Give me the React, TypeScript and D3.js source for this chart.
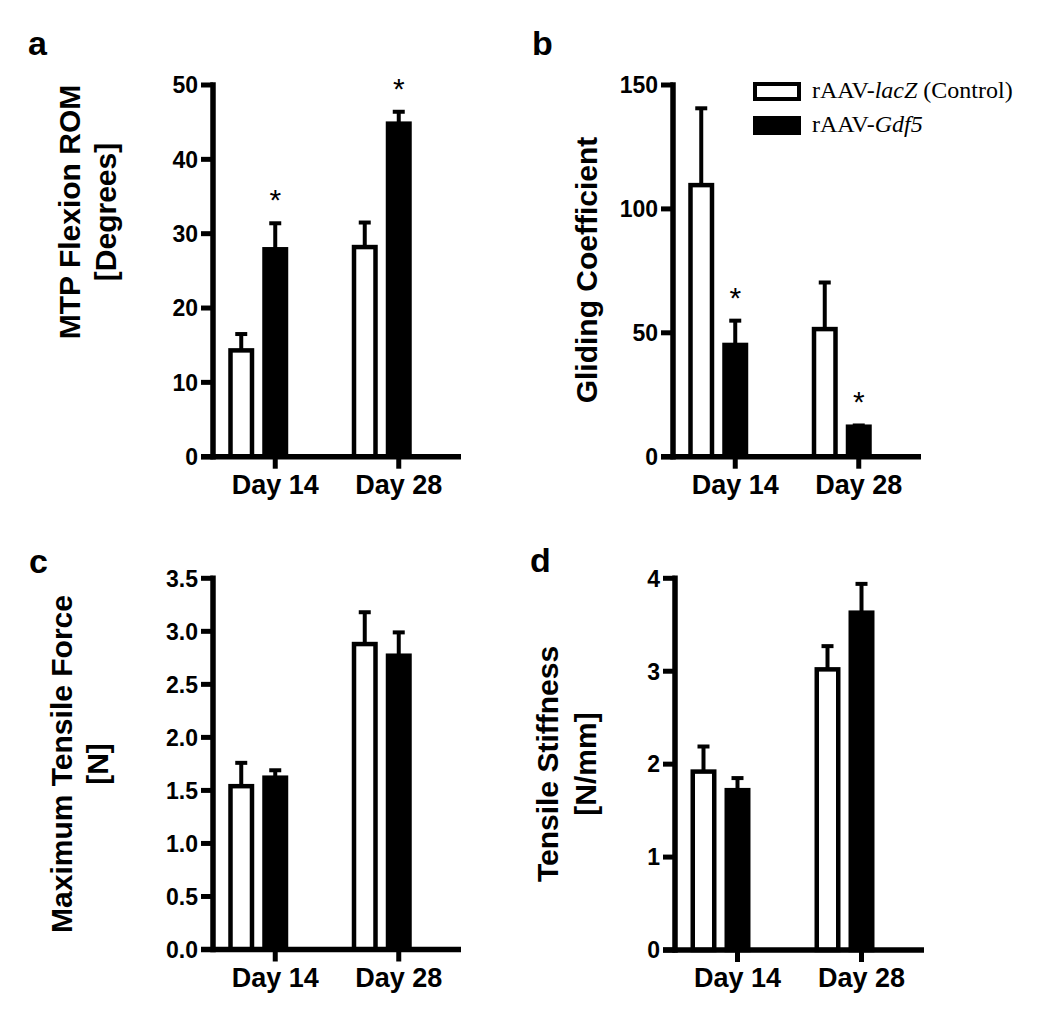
import React from "react";
import * as d3 from "d3";

// ---- data ----
const days = ["Day 14", "Day 28"];
const groups = ["control", "gdf5"];

// a: MTP Flexion ROM [Degrees]
const romControl = [14.3, 28.2];
const romControlErr = [2.2, 3.3];
const romGdf5 = [27.9, 44.8];
const romGdf5Err = [3.5, 1.6];
const romGdf5Star = [true, true];
const romTicks = [0, 10, 20, 30, 40, 50];

// b: Gliding Coefficient
const glideControl = [109.6, 51.5];
const glideControlErr = [31.0, 18.8];
const glideGdf5 = [45.1, 12.1];
const glideGdf5Err = [9.8, 0.5];
const glideGdf5Star = [true, true];
const glideTicks = [0, 50, 100, 150];

// c: Maximum Tensile Force [N]
const forceControl = [1.54, 2.88];
const forceControlErr = [0.22, 0.3];
const forceGdf5 = [1.62, 2.77];
const forceGdf5Err = [0.07, 0.22];
const forceGdf5Star = [false, false];
const forceTicks = [0, 0.5, 1.0, 1.5, 2.0, 2.5, 3.0, 3.5];

// d: Tensile Stiffness [N/mm]
const stiffControl = [1.92, 3.02];
const stiffControlErr = [0.27, 0.25];
const stiffGdf5 = [1.72, 3.63];
const stiffGdf5Err = [0.13, 0.31];
const stiffGdf5Star = [false, false];
const stiffTicks = [0, 1, 2, 3, 4];

const legendLabels = [
  { pre: "rAAV-", it: "lacZ", post: " (Control)" },
  { pre: "rAAV-", it: "Gdf5", post: "" },
];

const SANS = "'Liberation Sans', Arial, Helvetica, sans-serif";
const SERIF = "'Liberation Serif', 'Times New Roman', serif";

type PanelProps = {
  letter: string;
  letterX: number;
  letterY: number;
  axisX: number;
  top: number;
  bottom: number;
  span: number;
  ticks: number[];
  tickFmt: (v: number) => string;
  control: number[];
  controlErr: number[];
  gdf5: number[];
  gdf5Err: number[];
  stars: boolean[];
  titles: { text: string; x: number }[];
  titleCY: number;
};

function Panel(p: PanelProps) {
  const y = d3
    .scaleLinear()
    .domain([p.ticks[0], p.ticks[p.ticks.length - 1]])
    .range([p.bottom, p.top]);
  const x = d3
    .scalePoint<string>()
    .domain(days)
    .range([p.axisX, p.axisX + p.span])
    .padding(0.504);
  const sub = d3
    .scaleBand<string>()
    .domain(groups)
    .range([-51, 17])
    .paddingInner(0.368)
    .paddingOuter(0.184);
  const bw = sub.bandwidth();
  const data = [
    { g: "control", vals: p.control, errs: p.controlErr },
    { g: "gdf5", vals: p.gdf5, errs: p.gdf5Err },
  ];
  const capW = 12;
  return (
    <g>
      <text
        x={p.letterX}
        y={p.letterY}
        fontFamily={SANS}
        fontWeight="bold"
        fontSize={34}
      >
        {p.letter}
      </text>
      {p.titles.map((t, i) => (
        <text
          key={i}
          transform={`translate(${t.x},${p.titleCY}) rotate(-90)`}
          textAnchor="middle"
          fontFamily={SANS}
          fontWeight="bold"
          fontSize={30}
        >
          {t.text}
        </text>
      ))}
      {data.map((s) =>
        days.map((d, i) => {
          const cx = (x(d) as number) + (sub(s.g) as number) + bw / 2;
          const v = s.vals[i];
          const e = s.errs[i];
          return (
            <g key={s.g + d}>
              <line
                x1={cx}
                x2={cx}
                y1={y(v)}
                y2={y(v + e)}
                stroke="#000"
                strokeWidth={4}
              />
              <line
                x1={cx - capW / 2}
                x2={cx + capW / 2}
                y1={y(v + e)}
                y2={y(v + e)}
                stroke="#000"
                strokeWidth={4}
              />
              <rect
                x={cx - bw / 2}
                y={y(v)}
                width={bw}
                height={y(0) - y(v)}
                fill={s.g === "control" ? "#fff" : "#000"}
                stroke="#000"
                strokeWidth={4.5}
              />
            </g>
          );
        })
      )}
      {days.map((d, i) =>
        p.stars[i] ? (
          <text
            key={"star" + d}
            x={(x(d) as number) + (sub("gdf5") as number) + bw / 2}
            y={y(p.gdf5[i] + p.gdf5Err[i]) - 30 + 17}
            textAnchor="middle"
            fontFamily={SANS}
            fontSize={30}
          >
            *
          </text>
        ) : null
      )}
      {/* y axis */}
      <line
        x1={p.axisX}
        x2={p.axisX}
        y1={p.top}
        y2={p.bottom}
        stroke="#000"
        strokeWidth={5.5}
        strokeLinecap="square"
      />
      {p.ticks.map((t) => (
        <g key={"yt" + t}>
          <line
            x1={p.axisX - 12}
            x2={p.axisX}
            y1={y(t)}
            y2={y(t)}
            stroke="#000"
            strokeWidth={5}
          />
          <text
            x={p.axisX - 15}
            y={y(t)}
            dy="0.36em"
            textAnchor="end"
            fontFamily={SANS}
            fontWeight="bold"
            fontSize={23}
          >
            {p.tickFmt(t)}
          </text>
        </g>
      ))}
      {/* x axis */}
      <line
        x1={p.axisX - 12}
        x2={p.axisX + p.span}
        y1={p.bottom}
        y2={p.bottom}
        stroke="#000"
        strokeWidth={5.5}
      />
      {days.map((d) => (
        <g key={"xt" + d}>
          <line
            x1={x(d) as number}
            x2={x(d) as number}
            y1={p.bottom}
            y2={p.bottom + 12}
            stroke="#000"
            strokeWidth={5}
          />
          <text
            x={x(d) as number}
            y={p.bottom + 37}
            textAnchor="middle"
            fontFamily={SANS}
            fontWeight="bold"
            fontSize={27}
          >
            {d}
          </text>
        </g>
      ))}
    </g>
  );
}

export default function App() {
  return (
    <svg
      width={1050}
      height={1033}
      style={{ position: "absolute", left: 0, top: 0, background: "#fff" }}
    >
      <rect x={0} y={0} width={1050} height={1033} fill="#fff" />
      <Panel
        letter="a"
        letterX={28}
        letterY={55}
        axisX={213}
        top={85}
        bottom={456.7}
        span={248}
        ticks={romTicks}
        tickFmt={(v) => d3.format("d")(v)}
        control={romControl}
        controlErr={romControlErr}
        gdf5={romGdf5}
        gdf5Err={romGdf5Err}
        stars={romGdf5Star}
        titles={[
          { text: "MTP Flexion ROM", x: 80 },
          { text: "[Degrees]", x: 115.5 },
        ]}
        titleCY={212}
      />
      <Panel
        letter="b"
        letterX={532}
        letterY={55}
        axisX={673}
        top={85}
        bottom={456.7}
        span={248}
        ticks={glideTicks}
        tickFmt={(v) => d3.format("d")(v)}
        control={glideControl}
        controlErr={glideControlErr}
        gdf5={glideGdf5}
        gdf5Err={glideGdf5Err}
        stars={glideGdf5Star}
        titles={[{ text: "Gliding Coefficient", x: 597 }]}
        titleCY={270}
      />
      <Panel
        letter="c"
        letterX={29}
        letterY={573}
        axisX={213}
        top={578.3}
        bottom={949.5}
        span={248}
        ticks={forceTicks}
        tickFmt={(v) => d3.format(".1f")(v)}
        control={forceControl}
        controlErr={forceControlErr}
        gdf5={forceGdf5}
        gdf5Err={forceGdf5Err}
        stars={forceGdf5Star}
        titles={[
          { text: "Maximum Tensile Force", x: 72 },
          { text: "[N]", x: 108 },
        ]}
        titleCY={764}
      />
      <Panel
        letter="d"
        letterX={530}
        letterY={572}
        axisX={675}
        top={578.3}
        bottom={950}
        span={249}
        ticks={stiffTicks}
        tickFmt={(v) => d3.format("d")(v)}
        control={stiffControl}
        controlErr={stiffControlErr}
        gdf5={stiffGdf5}
        gdf5Err={stiffGdf5Err}
        stars={stiffGdf5Star}
        titles={[
          { text: "Tensile Stiffness", x: 558 },
          { text: "[N/mm]", x: 596 },
        ]}
        titleCY={764}
      />
      {/* legend */}
      {legendLabels.map((l, i) => (
        <g key={"lg" + i} transform={`translate(0,${i * 34})`}>
          <rect
            x={755}
            y={84}
            width={44}
            height={15}
            fill={i === 0 ? "#fff" : "#000"}
            stroke="#000"
            strokeWidth={4}
          />
          <text x={812} y={98} fontFamily={SERIF} fontSize={24}>
            {l.pre}
            <tspan fontStyle="italic">{l.it}</tspan>
            {l.post}
          </text>
        </g>
      ))}
    </svg>
  );
}
